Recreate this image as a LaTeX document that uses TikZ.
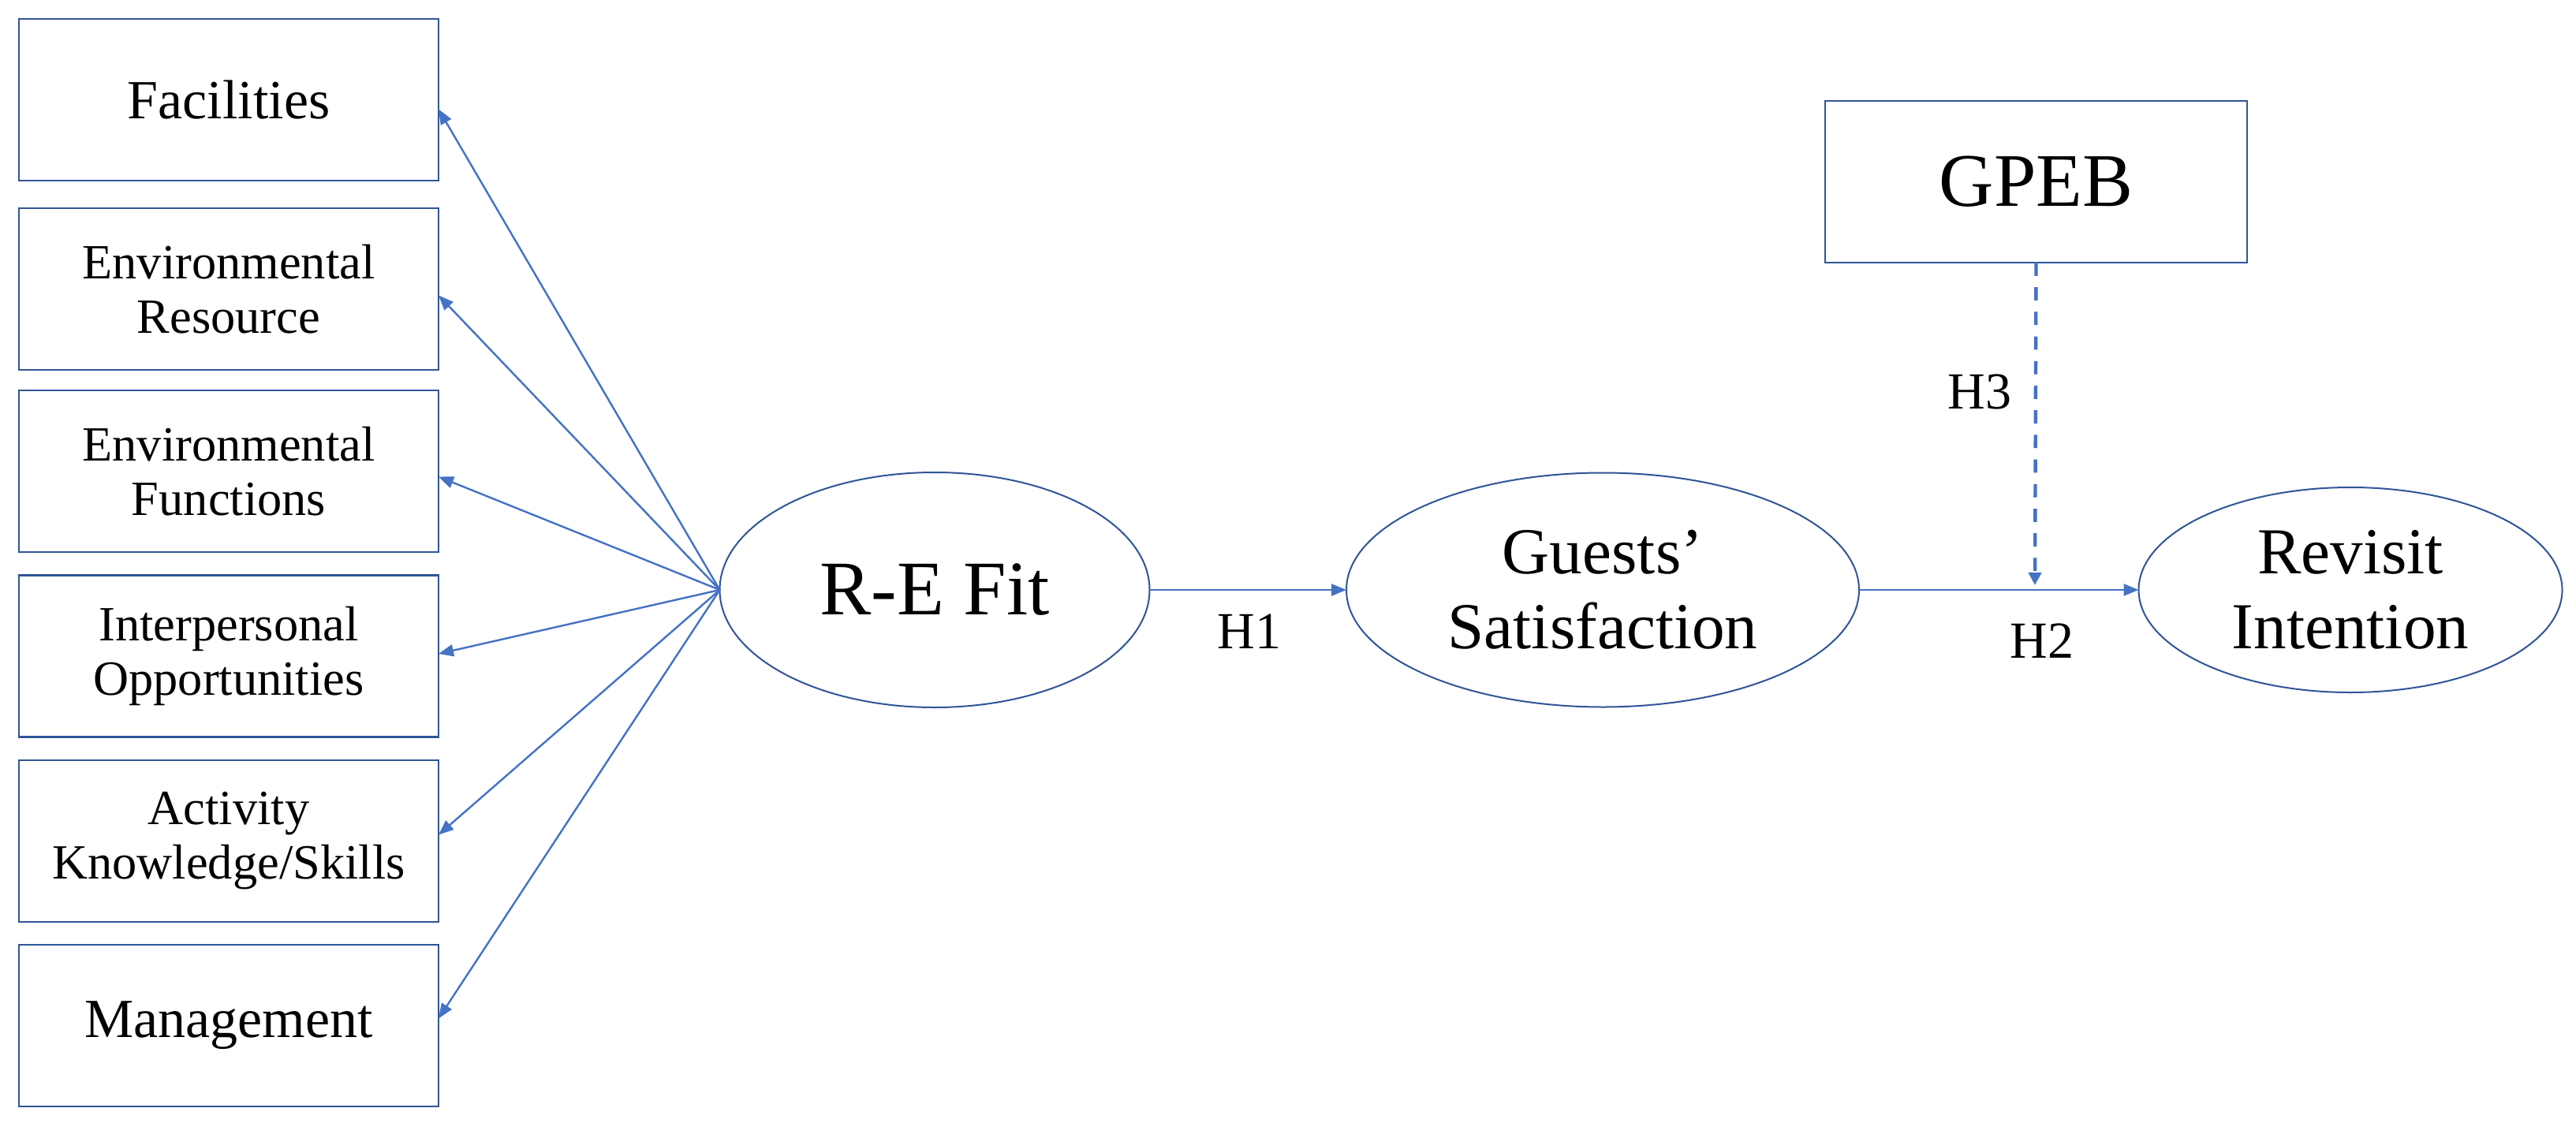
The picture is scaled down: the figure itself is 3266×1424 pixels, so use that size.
\documentclass[tikz,border=0pt]{standalone}
\usepackage{fontspec}
\setmainfont{Liberation Serif}
\usetikzlibrary{arrows.meta,shapes.geometric}
\definecolor{boxblue}{HTML}{2F5597}
\definecolor{linkblue}{HTML}{4472C4}
\begin{document}
\begin{tikzpicture}[x=0.25pt,y=-0.25pt,
  box/.style={draw=boxblue, line width=0.6pt, rectangle, minimum width=133pt,
    minimum height=51.25pt, inner sep=0pt, outer sep=0pt, align=center},
  twoline/.style={font=\fontsize{15.6pt}{17.25pt}\selectfont},
  oneline/.style={font=\fontsize{17.5pt}{20pt}\selectfont},
  latent/.style={draw=boxblue, line width=0.5pt, ellipse, inner sep=0pt, outer sep=0pt,
    align=center, font=\fontsize{20.8pt}{23.75pt}\selectfont},
  conn/.style={draw=linkblue, line width=0.6pt, -{Triangle[length=4.75pt,width=3.75pt]}},
  hlabel/.style={inner sep=0pt, font=\fontsize{16.5pt}{19pt}\selectfont}]
\path[use as bounding box, fill=white] (0,0) rectangle (3266,1424);

% left indicator boxes
\node[box, oneline] (f1) at (290,126.5) {Facilities};
\node[box, twoline] (f2) at (290,366.5) {Environmental\\Resource};
\node[box, twoline] (f3) at (290,597.5) {Environmental\\Functions};
\node[box, twoline] (f4) at (290,832) {Interpersonal\\Opportunities};
\node[box, twoline] (f5) at (290,1066.5) {Activity\\Knowledge/Skills};
\node[box, oneline] (f6) at (290,1300.5) {Management};

% latent constructs
\node[latent, minimum width=136.25pt, minimum height=74.5pt,
  font=\fontsize{24.5pt}{28pt}\selectfont] (re) at (1185,748) {R-E Fit};
\node[latent, minimum width=162.5pt, minimum height=74.25pt] (gs) at (2032,748) {Guests’\\Satisfaction};
\node[latent, minimum width=134.25pt, minimum height=65pt] (ri) at (2980,748) {Revisit\\Intention};

% moderator
\node[box, minimum width=133.75pt, font=\fontsize{24pt}{28pt}\selectfont] (gpeb) at (2581.5,230.5) {GPEB};

% connectors from R-E Fit to indicators
\draw[conn] (re.west) -- ([yshift=-3pt]f1.east);
\draw[conn] (re.west) -- ([yshift=-2pt]f2.east);
\draw[conn] (re.west) -- ([yshift=-1.75pt]f3.east);
\draw[conn] (re.west) -- ([yshift=0.75pt]f4.east);
\draw[conn] (re.west) -- ([yshift=2pt]f5.east);
\draw[conn] (re.west) -- ([yshift=2.25pt]f6.east);

% structural paths
\draw[conn] (re.east) -- (gs.west);
\draw[conn] (gs.east) -- (ri.west);
\coordinate (mod) at (2580,742);
\draw[draw=linkblue, line width=1.1pt, dash pattern=on 4.2pt off 3.6pt,
  -{Triangle[length=4pt,width=4pt]}] (gpeb.south) -- (mod);

% hypothesis labels
\node[hlabel] (h1) at (1584,801) {H1};
\node[hlabel] (h2) at (2589,813) {H2};
\node[hlabel] (h3) at (2510,497) {H3};
\end{tikzpicture}
\end{document}
